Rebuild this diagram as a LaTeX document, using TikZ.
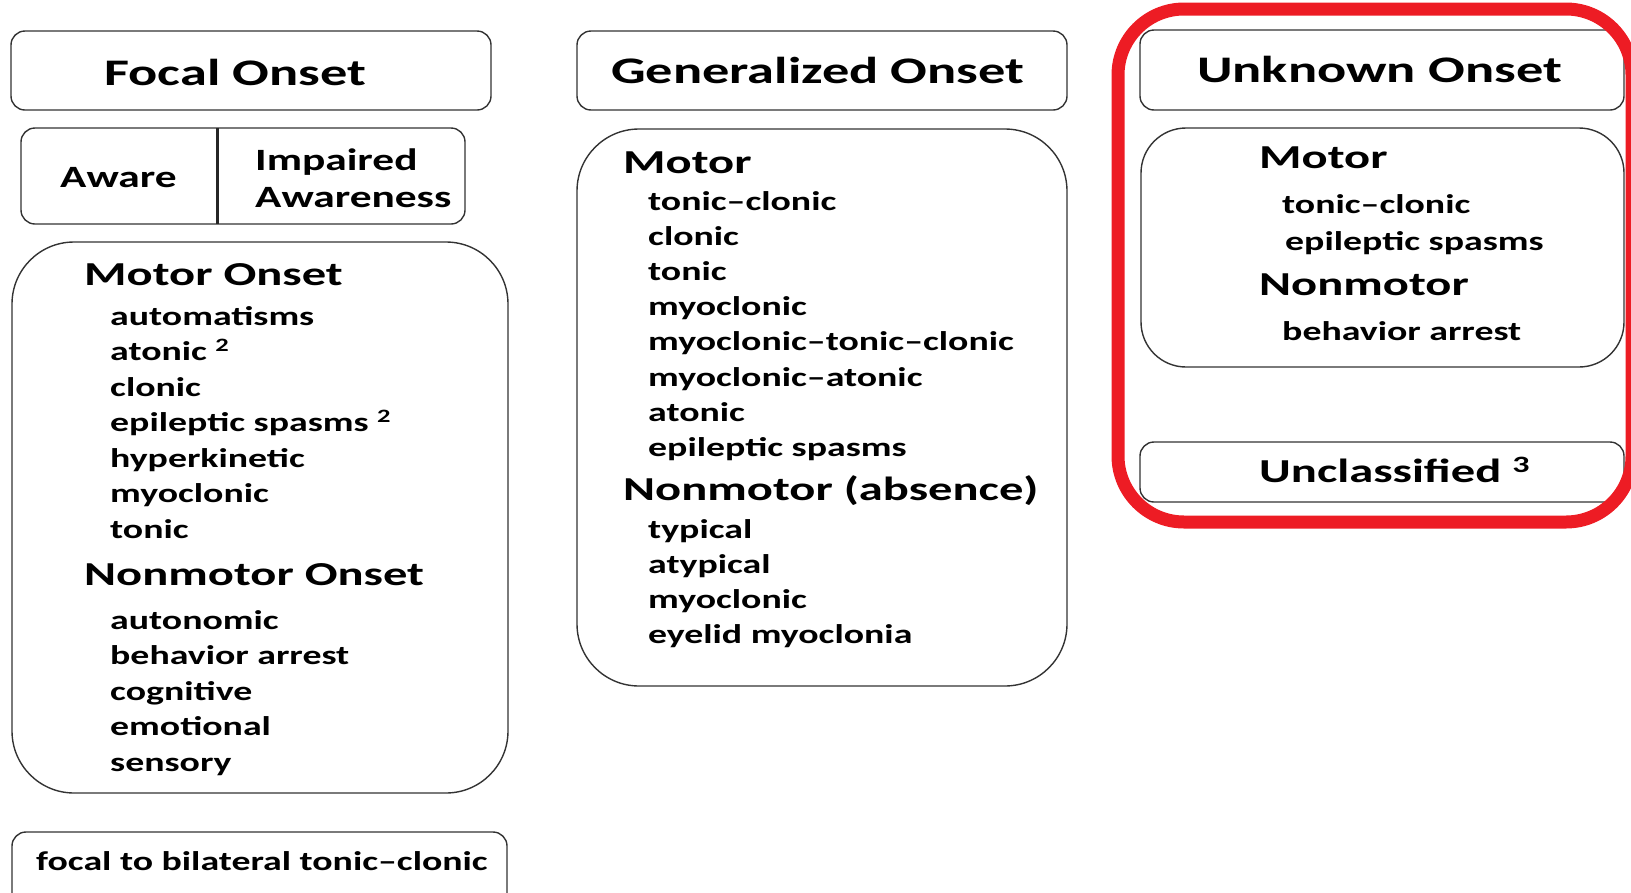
\documentclass[tikz,border=0pt]{standalone}
\usepackage{fontspec}
\newfontfamily\itemfont[FakeStretch=1.40]{Carlito}
\newfontfamily\headfont[FakeStretch=1.45]{Carlito}
\definecolor{framered}{RGB}{237,28,36}
\tikzset{
  box/.style={draw=black!80, line width=1.4pt, rounded corners=14pt},
  bigbox/.style={draw=black!80, line width=1.4pt, rounded corners=62pt},
  head/.style={anchor=base west, inner sep=0pt, font=\headfont\bfseries\fontsize{37.5}{40}\selectfont},
  sub/.style={anchor=base west, inner sep=0pt, font=\headfont\bfseries\fontsize{33.5}{36}\selectfont},
  aware/.style={anchor=base west, inner sep=0pt, font=\itemfont\bfseries\fontsize{31}{34}\selectfont},
  item/.style={anchor=base west, inner sep=0pt, font=\itemfont\bfseries\fontsize{27}{30}\selectfont},
}
\begin{document}
\begin{tikzpicture}[x=1pt, y=-1pt]
  \useasboundingbox (0,0) rectangle (1631,892);

  % --- Focal onset ---
  \draw[box] (11,31) rectangle (491,110);
  \node[head] (focal) at (104,85) {Focal Onset};

  \draw[box] (21,128) rectangle (465,224);
  \draw[black!85, line width=3pt] (217,128) -- (217,224);
  \node[aware] (aware) at (60,187) {Aware};
  \node[aware] (impaired) at (255,170) {Impaired};
  \node[aware] (awareness) at (255,207) {Awareness};

  \draw[bigbox] (12,242) rectangle (508,793);
  \node[sub] (fmotor) at (84,285) {Motor Onset};
  \foreach \txt [count=\k] in {automatisms, {atonic \textsuperscript{2}}, clonic,
      {epileptic spasms \textsuperscript{2}}, hyperkinetic, myoclonic, tonic}
    \node[item] (fm\k) at (110, {325+35.5*(\k-1)}) {\txt};
  \node[sub] (fnonmotor) at (84,585) {Nonmotor Onset};
  \foreach \txt [count=\k] in {autonomic, behavior arrest, cognitive, emotional, sensory}
    \node[item] (fn\k) at (110, {629+35.5*(\k-1)}) {\txt};

  \draw[box] (12,832) rectangle (507,910);
  \node[item] (bilateral) at (36,870) {focal to bilateral tonic–clonic};

  % --- Generalized onset ---
  \draw[box] (577,31) rectangle (1067,110);
  \node[head] (general) at (611,83) {Generalized Onset};

  \draw[bigbox] (577,129) rectangle (1067,686);
  \node[sub] (gmotor) at (623,173) {Motor};
  \foreach \txt [count=\k] in {tonic–clonic, clonic, tonic, myoclonic,
      myoclonic–tonic–clonic, myoclonic–atonic, atonic, epileptic spasms}
    \node[item] (gm\k) at (648, {210+35.2*(\k-1)}) {\txt};
  \node[sub] (gnonmotor) at (623,500) {Nonmotor (absence)};
  \foreach \txt [count=\k] in {typical, atypical, myoclonic, eyelid myoclonia}
    \node[item] (gn\k) at (648, {538+35*(\k-1)}) {\txt};

  % --- Unknown onset ---
  \draw[box] (1140,30) rectangle (1624,110);
  \node[head] (unknown) at (1197,82) {Unknown Onset};

  \draw[box, rounded corners=45pt] (1141,128) rectangle (1624,367);
  \node[sub] (umotor) at (1259,168) {Motor};
  \node[item] (um1) at (1282,213) {tonic–clonic};
  \node[item] (um2) at (1285,250) {epileptic spasms};
  \node[sub] (unonmotor) at (1259,295) {Nonmotor};
  \node[item] (un1) at (1282,340) {behavior arrest};

  \draw[box] (1140,442) rectangle (1624,502);
  \node[sub] (unclass) at (1259,482) {Unclassified \textsuperscript{3}};

  % highlight frame
  \draw[framered, line width=13pt, rounded corners=66pt] (1118,9) rectangle (1632,522);
\end{tikzpicture}
\end{document}
